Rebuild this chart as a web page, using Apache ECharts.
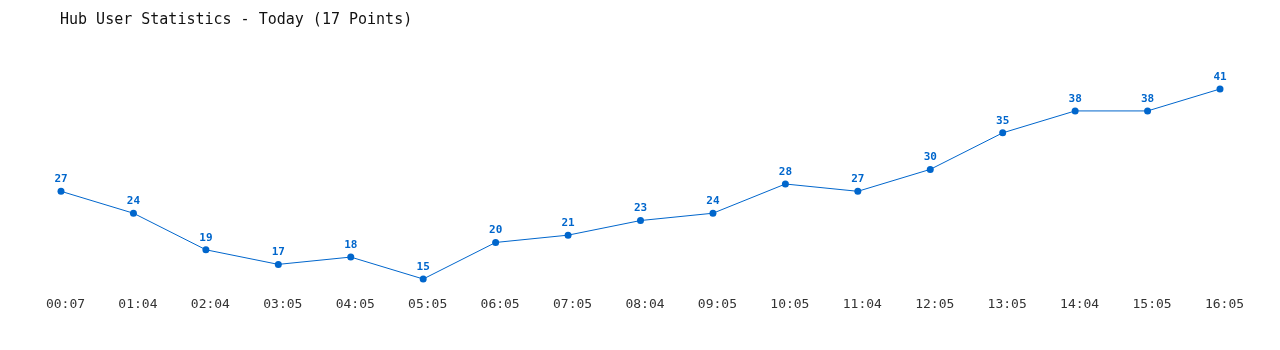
<!DOCTYPE html>
<html><head><meta charset="utf-8">
<script src="https://cdn.jsdelivr.net/npm/echarts@6/dist/echarts.min.js"></script>
<style>html,body{margin:0;padding:0;background:#fff}#c{width:1280px;height:350px}</style>
</head><body><div id="c"></div>
<script>
const categories = ["00:07","01:04","02:04","03:05","04:05","05:05","06:05","07:05","08:04","09:05","10:05","11:04","12:05","13:05","14:04","15:05","16:05"];
const users = [27,24,19,17,18,15,20,21,23,24,28,27,30,35,38,38,41];
const titleText = "Hub User Statistics - Today (17 Points)";

const chart = echarts.init(document.getElementById('c'));
chart.setOption({
  animation: false,
  backgroundColor: '#fff',
  title: {
    text: titleText, left: 55, top: 8,
    textStyle: { fontFamily: '"DejaVu Sans Mono", monospace', fontSize: 15, fontWeight: 'normal', color: '#111' }
  },
  grid: { left: 61, right: 60, top: 89, bottom: 71 },
  xAxis: {
    type: 'category', data: categories, boundaryGap: false,
    axisLine: { show: false }, axisTick: { show: false }, splitLine: { show: false },
    axisLabel: { margin: 19, padding: [0, 0, 0, 9], color: '#333', fontSize: 13, fontFamily: '"DejaVu Sans Mono", monospace', interval: 0 }
  },
  yAxis: {
    type: 'value', min: 15, max: 41, show: false, splitLine: { show: false }
  },
  series: [{
    type: 'line', data: users,
    symbol: 'circle', symbolSize: 7,
    lineStyle: { color: '#0066cc', width: 1 },
    itemStyle: { color: '#0066cc' },
    label: { show: true, position: 'top', distance: 3, color: '#0066cc', fontWeight: 'bold', fontSize: 11, fontFamily: '"DejaVu Sans Mono", monospace' }
  }]
});
</script></body></html>
